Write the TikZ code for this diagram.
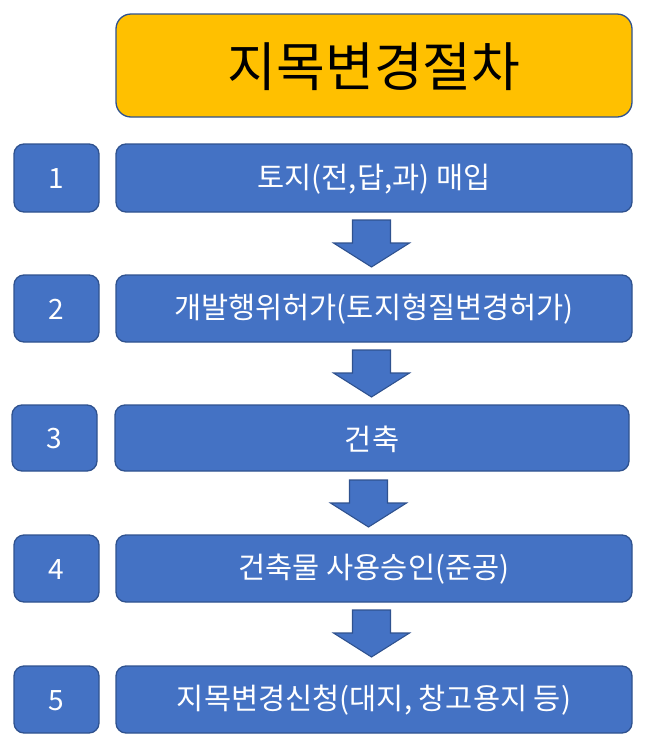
\documentclass[tikz,border=0pt]{standalone}
\usepackage{fontspec}
\setmainfont{Noto Sans CJK KR}
\definecolor{boxblue}{HTML}{4472C4}
\definecolor{edgeblue}{HTML}{2F528F}
\definecolor{titleyellow}{HTML}{FFC000}
\begin{document}
\begin{tikzpicture}[x=1pt,y=-1pt,
  stepbox/.style={draw=edgeblue,fill=boxblue,line width=1.3pt,rounded corners=10pt,text=white},
  numbox/.style={draw=edgeblue,fill=boxblue,line width=1.3pt,rounded corners=10pt,text=white},
  titlebox/.style={draw=edgeblue,fill=titleyellow,line width=1.3pt,rounded corners=15pt},
  downarrow/.style={draw=edgeblue,fill=boxblue,line width=1.1pt,line join=miter}]
\useasboundingbox (0,0) rectangle (645,745);
% title
\draw[titlebox] (116,14) rectangle (632,117);
\node[font=\fontsize{53}{60}\selectfont] (title) at (374,67) {지목변경절차};
% rows
\foreach \i/\yt/\yb/\xl/\xr/\nl/\nr/\txt in {
  1/144/212/116/632/14/99/{토지(전,답,과) 매입},
  2/275/342/116/632/14/99/{개발행위허가(토지형질변경허가)},
  3/405/471/115/629/12/97/{건축},
  4/535/602/116/632/14/99/{건축물 사용승인(준공)},
  5/666/733/116/632/14/99/{지목변경신청(대지, 창고용지 등)}}{
  \draw[stepbox] (\xl,\yt) rectangle (\xr,\yb);
  \node[text=white,font=\fontsize{29.5}{33}\selectfont] (s\i) at ({(\xl+\xr)/2},{(\yt+\yb)/2+1}) {\txt};
  \draw[numbox] (\nl,\yt) rectangle (\nr,\yb);
  \node[text=white,font=\fontsize{28}{31}\selectfont] (n\i) at ({(\nl+\nr)/2},{(\yt+\yb)/2+1}) {\i};
}
% arrows
\foreach \cx/\yt in {371.5/220, 371.5/350, 368.5/480, 371.5/610}{
  \draw[downarrow] (\cx-19,\yt) -- (\cx+19,\yt) -- (\cx+19,\yt+23) -- (\cx+38,\yt+23)
    -- (\cx,\yt+47) -- (\cx-38,\yt+23) -- (\cx-19,\yt+23) -- cycle;
}
\end{tikzpicture}
\end{document}
